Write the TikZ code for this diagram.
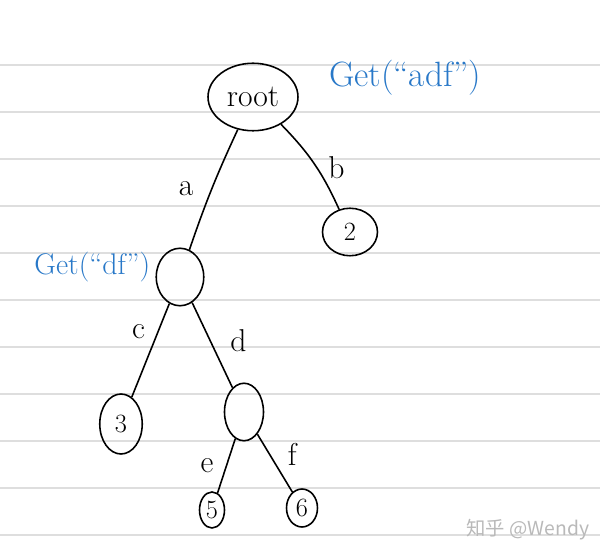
\documentclass[tikz,border=0pt]{standalone}
\usepackage{fontspec}
\newfontfamily\cjkfont{Noto Sans CJK SC}
\usetikzlibrary{positioning, shapes.geometric}
\definecolor{inkblue}{RGB}{40,120,200}
\definecolor{paperline}{RGB}{222,222,222}

\begin{document}
\begin{tikzpicture}[
    x=0.02cm, y=-0.02cm,
    trienode/.style={ellipse, draw=black, line width=0.9pt, inner sep=0pt, font=\fontsize{15}{17}\selectfont},
    edge/.style={draw=black, line width=0.9pt},
    edgelabel/.style={font=\fontsize{18}{20}\selectfont, inner sep=1pt},
    query/.style={text=inkblue, inner sep=0pt}
  ]
  \useasboundingbox (0,0) rectangle (600,560);

  % ruled paper
  \foreach \y in {65,112,...,535}
    \draw[paperline, line width=1pt] (0,\y) -- (600,\y);

  % trie nodes
  \node[trienode, minimum width=1.8cm, minimum height=1.35cm, font=\fontsize{18}{20}\selectfont] (root) at (253,97) {root};
  \node[trienode, minimum width=1.1cm, minimum height=0.95cm] (n2) at (350,232) {2};
  \node[trienode, minimum width=0.95cm, minimum height=1.15cm] (na) at (180,277) {};
  \node[trienode, minimum width=0.85cm, minimum height=1.2cm] (n3) at (121,424) {3};
  \node[trienode, minimum width=0.78cm, minimum height=1.15cm] (nd) at (244,412) {};
  \node[trienode, minimum width=0.5cm, minimum height=0.72cm] (n5) at (212,510) {5};
  \node[trienode, minimum width=0.62cm, minimum height=0.76cm] (n6) at (302,508) {6};

  % lookups
  \node[query, right=0.6cm of root, yshift=0.38cm, font=\fontsize{20}{22}\selectfont] (getadf) {Get(``adf'')};
  \node[query, left=0.1cm of na, yshift=0.2cm, font=\fontsize{17}{19}\selectfont] (getdf) {Get(``df'')};

  % edges
  \draw[edge] (root) to[bend right=3] node[edgelabel, left=9pt] {a} (na);
  \draw[edge] (root) to[bend left=10] node[edgelabel, right=5pt, pos=0.55] {b} (n2);
  \draw[edge] (na) -- node[edgelabel, left=6pt, pos=0.3] {c} (n3);
  \draw[edge] (na) -- node[edgelabel, right=10pt, pos=0.45] {d} (nd);
  \draw[edge] (nd) -- node[edgelabel, left=6pt, pos=0.5] {e} (n5);
  \draw[edge] (nd) -- node[edgelabel, right=9pt, pos=0.35] {f} (n6);

  % watermark
  \node[text=gray!55, font=\cjkfont\fontsize{11}{13}\selectfont] (mark) at (528,530) {知乎 @Wendy};
\end{tikzpicture}
\end{document}
